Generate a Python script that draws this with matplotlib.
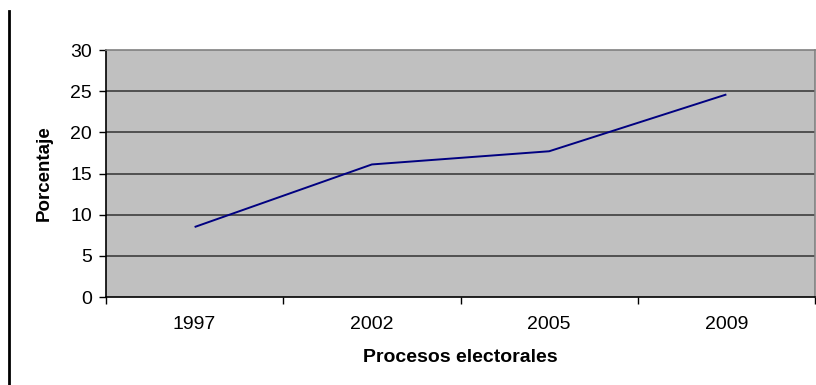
import matplotlib
matplotlib.use("Agg")
import matplotlib.pyplot as plt
from matplotlib.lines import Line2D

# Participación por proceso electoral
procesos = ["1997", "2002", "2005", "2009"]
porcentaje = [8.5, 16.1, 17.7, 24.6]
y_ticks = [0, 5, 10, 15, 20, 25, 30]

plt.rcParams["font.family"] = ["Liberation Sans", "DejaVu Sans"]

W, H = 816, 385
fig = plt.figure(figsize=(W / 100, H / 100), dpi=100)
ax = fig.add_axes([106 / W, 1 - 297 / H, (815 - 106) / W, (297 - 50) / H])
ax.set_facecolor("#c0c0c0")

x = [i + 0.5 for i in range(len(procesos))]
ax.plot(x, porcentaje, color="#000080", lw=1.4, solid_capstyle="butt")

ax.set_xlim(0, len(procesos))
ax.set_ylim(0, 30)
ax.set_yticks(y_ticks)
ax.set_yticklabels([str(v) for v in y_ticks], fontsize=14)
ax.set_xticks(range(len(procesos) + 1))
ax.set_xticklabels([])
ax.set_xticks(x, minor=True)
ax.set_xticklabels(procesos, minor=True, fontsize=14)
ax.tick_params(axis="x", which="minor", length=0, pad=14)
ax.tick_params(axis="x", which="major", length=5, width=1, color="black")
ax.tick_params(axis="y", length=5, width=1, color="black", pad=5)

for v in y_ticks[1:-1]:
    ax.axhline(v, color="#333333", lw=1.1, zorder=1)

for side in ("top", "right"):
    ax.spines[side].set_color("#808080")
    ax.spines[side].set_linewidth(1.2)
for side in ("left", "bottom"):
    ax.spines[side].set_color("black")
    ax.spines[side].set_linewidth(1.2)

ax.set_ylabel("Porcentaje", fontsize=13.5, fontweight="bold")
ax.yaxis.set_label_coords((44 - 106) / (815 - 106), 0.5)
ax.set_xlabel("Procesos electorales", fontsize=14, fontweight="bold")
ax.xaxis.set_label_coords(0.5, -(357 - 297) / (297 - 50))
ax.xaxis.label.set_va("center")
ax.yaxis.label.set_va("center")

fig.add_artist(Line2D([8.7 / W, 8.7 / W], [1 - 11 / H, 0.0], color="black",
                      lw=2, transform=fig.transFigure))

fig.savefig("out.png", dpi=100)
